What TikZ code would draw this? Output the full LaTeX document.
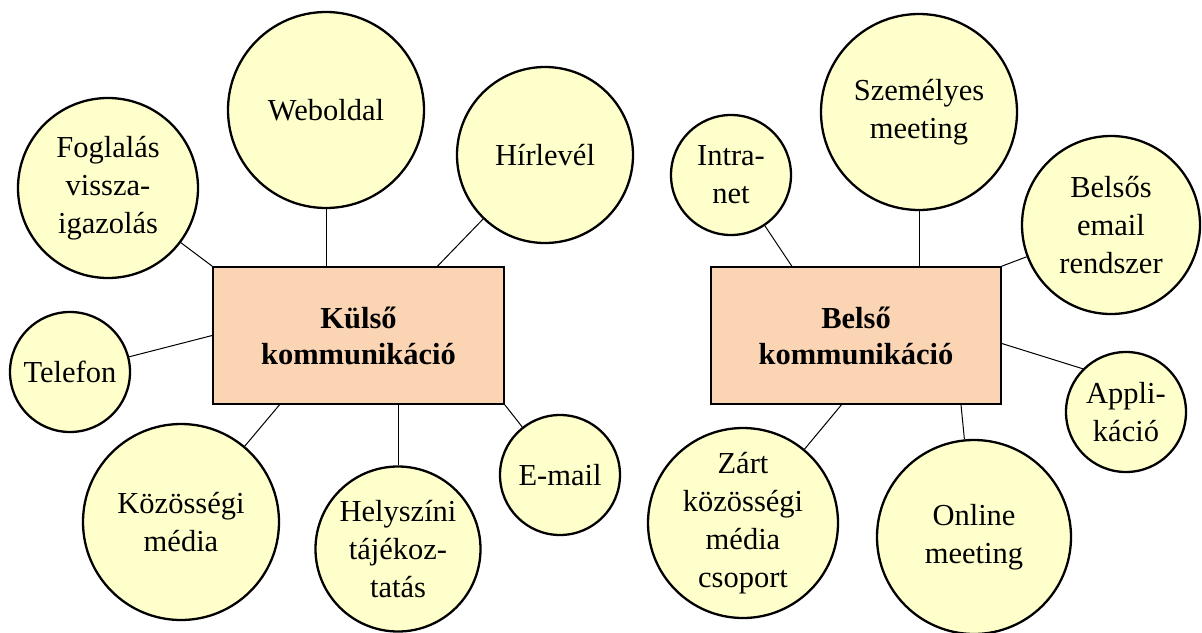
\documentclass[tikz,border=0pt]{standalone}
\usepackage{fontspec}
\setmainfont{Liberation Serif}
\usetikzlibrary{calc}
\definecolor{bubble}{HTML}{FFFFCC}
\definecolor{peach}{HTML}{FBD4B4}

\begin{document}
\begin{tikzpicture}[x=1pt, y=-1pt,
    font=\fontsize{30.5}{38}\selectfont,
    bub/.style={circle, draw, fill=bubble, line width=2.3pt, inner sep=0pt, align=center},
    hub/.style={rectangle, draw, fill=peach, line width=1.7pt, minimum width=291pt,
        minimum height=137pt, align=center, font=\fontsize{30.5}{36}\selectfont\bfseries},
    link/.style={line width=1pt}]
    \useasboundingbox (0,0) rectangle (1202,632);

    % kulso
    \node[hub] (kulso) at (358.5,335.5) {Külső\\kommunikáció};
    \node[bub, minimum size=196pt] (web) at (326,110) {Weboldal};
    \node[bub, minimum size=176pt] (hir) at (545,155) {Hírlevél};
    \node[bub, minimum size=180pt] (fog) at (108,188) {Foglalás\\vissza-\\igazolás};
    \node[bub, minimum size=120pt] (tel) at (70,372) {Telefon};
    \node[bub, minimum size=196pt] (koz) at (181,522) {Közösségi\\média};
    \node[bub, minimum size=165pt] (hely) at (398,549) {Helyszíni\\tájékoz-\\tatás};
    \node[bub, minimum size=120pt] (mail) at (560,475) {E-mail};

    \draw[link] (fog) -- (kulso.north west);
    \draw[link] (web) -- (web |- kulso.north);
    \draw[link] (hir) -- ($(kulso.north west)!.77!(kulso.north east)$);
    \draw[link] (tel) -- (kulso.west);
    \draw[link] (koz) -- ($(kulso.south west)!.23!(kulso.south east)$);
    \draw[link] (hely) -- (hely |- kulso.south);
    \draw[link] (mail) -- (kulso.south east);

    % belso
    \node[hub, minimum width=290pt] (belso) at (856,335.5) {Belső\\kommunikáció};
    \node[bub, minimum size=120pt] (intra) at (731,175) {Intra-\\net};
    \node[bub, minimum size=196pt] (szem) at (919,112) {Személyes\\meeting};
    \node[bub, minimum size=178pt] (bemail) at (1111,225) {Belsős\\email\\rendszer};
    \node[bub, minimum size=120pt] (app) at (1126,412) {Appli-\\káció};
    \node[bub, minimum size=194pt] (online) at (974,537) {Online\\meeting};
    \node[bub, minimum size=190pt] (zart) at (743,523) {Zárt\\közösségi\\média\\csoport};

    \draw[link] (intra) -- ($(belso.north west)!.28!(belso.north east)$);
    \draw[link] (szem) -- (szem |- belso.north);
    \draw[link] (bemail) -- (belso.north east);
    \draw[link] (app.135) -- ($(belso.east)+(0,8)$);
    \draw[link] (online) -- ($(belso.south west)!.86!(belso.south east)$);
    \draw[link] (zart) -- ($(belso.south west)!.45!(belso.south east)$);
\end{tikzpicture}
\end{document}
